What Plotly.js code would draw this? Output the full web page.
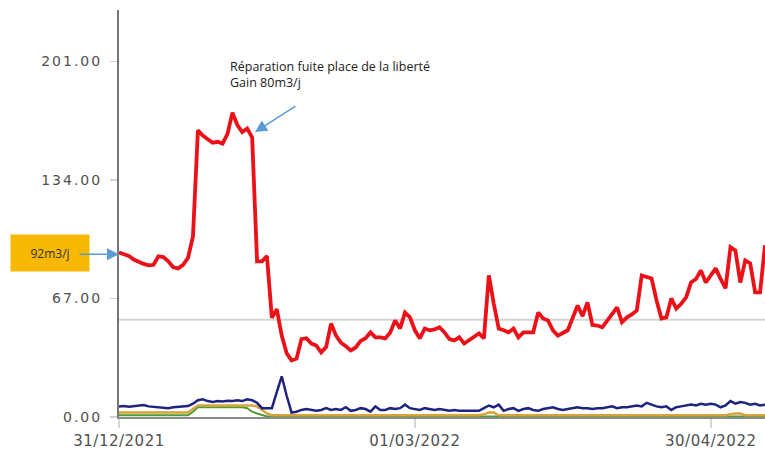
<!DOCTYPE html>
<html>
<head>
<meta charset="utf-8">
<script src="https://cdn.plot.ly/plotly-3.0.1.min.js"></script>
<style>
html,body{margin:0;padding:0;background:#fff;}
#chart{width:765px;height:450px;}
#chart .ytick text{letter-spacing:2px;}
#chart .xtick text{letter-spacing:0.5px;}
</style>
</head>
<body>
<div id="chart"></div>
<script>
// Daily values starting 31/12/2021
const startDate = '2021-12-31';
const redValues = [
  93, 92, 91, 89, 87.5, 86.5, 85.7, 86, 90.8, 90.4,
  88, 84.6, 84, 86, 90, 102, 162, 159, 157, 155,
  155.5, 154.5, 160, 172, 165, 161, 163, 158, 88, 88,
  91, 56, 61, 46, 36, 32, 33, 44, 44.5, 41.5,
  40.4, 36.5, 39.5, 52.8, 46, 42, 40, 37.6, 39.3, 43,
  44.5, 47.8, 45, 45, 44.4, 47.8, 54.6, 50, 59, 56.3,
  49, 44.4, 50, 49, 49.5, 50.7, 47.8, 44, 43.3, 45,
  41.5, 43.3, 45, 47.2, 44.4, 80, 64, 50, 49, 47.8,
  50, 45, 47.8, 48, 47.8, 59, 55.7, 54.6, 49, 46,
  47.8, 49, 56, 63, 57, 64.8, 52, 51.7, 50.7, 54.6,
  58, 62, 53.5, 56.3, 58, 60.2, 80, 79, 78.3, 66,
  55.7, 56.3, 67, 61.3, 64, 67.6, 76, 78, 82.8, 76,
  80, 84, 78, 72.7, 96, 94, 76, 88.5, 86.8, 70.4,
  70.4, 97
];
const blueValues = [
  6, 6.2, 5.8, 6, 6.5, 6.8, 6, 5.8, 5.5, 5,
  5, 5.5, 5.8, 6, 6.2, 7.5, 9.5, 10, 9, 8.5,
  9, 8.8, 9.2, 9, 9.5, 9, 10, 9.5, 8, 5,
  5, 5, 14, 23, 12, 2.5, 3, 4, 4.5, 4,
  3.5, 4, 5, 4, 4.5, 4, 5.5, 3.5, 4, 5,
  4.5, 3, 6, 4, 4, 5, 4.5, 5, 7, 5,
  4.5, 4, 5, 4.5, 4, 4.5, 4, 3.5, 4, 3.5,
  3.5, 3.5, 3.5, 3.5, 5, 6.5, 5.5, 7, 3.5, 4.5,
  5, 3.5, 4.5, 5, 4, 3.5, 4.5, 5, 5.5, 4.5,
  4, 4.5, 5, 5.5, 5, 5, 4.5, 5, 5, 5.5,
  6, 5, 5.5, 5.5, 6, 6.5, 6, 8, 7, 6,
  5.5, 6, 4, 5.5, 6, 6.5, 7, 6.5, 7.5, 7,
  7.5, 7, 5.5, 6.5, 9, 7.5, 8.5, 8, 7, 7.5,
  6.5, 7
];
const orangeValues = [
  2.5, 2.5, 2.5, 2.5, 2.5, 2.5, 2.5, 2.5, 2.5, 2.5,
  2.5, 2.5, 2.5, 2.5, 2.5, 4.5, 6.5, 6.5, 6.5, 6.5,
  6.5, 6.5, 6.5, 6.5, 6.5, 6.5, 6.5, 6.5, 6, 4,
  2, 1, 1, 1, 1, 1, 1, 1, 1, 1,
  1, 1, 1, 1, 1, 1, 1, 1, 1, 1,
  1, 1, 1, 1, 1, 1, 1, 1, 1, 1,
  1, 1, 1, 1, 1, 1, 1, 1, 1, 1,
  1, 1, 1, 1, 1.5, 2.5, 2.5, 1, 1, 1,
  1, 1, 1, 1, 1, 1, 1, 1, 1, 1,
  1, 1, 1, 1, 1, 1, 1, 1, 1, 1,
  1, 1, 1, 1, 1, 1, 1, 1, 1, 1,
  1, 1, 1, 1, 1, 1, 1, 1, 1, 1,
  1, 1, 1, 1, 1.5, 2, 2, 1, 1, 1,
  1, 1
];
const greenValues = [
  1, 1, 1, 1, 1, 1, 1, 1, 1, 1,
  1, 1, 1, 1, 1, 3, 5.5, 5.5, 5.5, 5.5,
  5.5, 5.5, 5.5, 5.5, 5.5, 5.5, 5, 3, 2, 1,
  0.3, 0.3, 0.3, 0.3, 0.3, 0.3, 0.3, 0.3, 0.3, 0.3,
  0.3, 0.3, 0.3, 0.3, 0.3, 0.3, 0.3, 0.3, 0.3, 0.3,
  0.3, 0.3, 0.3, 0.3, 0.3, 0.3, 0.3, 0.3, 0.3, 0.3,
  0.3, 0.3, 0.3, 0.3, 0.3, 0.3, 0.3, 0.3, 0.3, 0.3,
  0.3, 0.3, 0.3, 0.3, 0.3, 0.3, 0.3, 0.3, 0.3, 0.3,
  0.3, 0.3, 0.3, 0.3, 0.3, 0.3, 0.3, 0.3, 0.3, 0.3,
  0.3, 0.3, 0.3, 0.3, 0.3, 0.3, 0.3, 0.3, 0.3, 0.3,
  0.3, 0.3, 0.3, 0.3, 0.3, 0.3, 0.3, 0.3, 0.3, 0.3,
  0.3, 0.3, 0.3, 0.3, 0.3, 0.3, 0.3, 0.3, 0.3, 0.3,
  0.3, 0.3, 0.3, 0.3, 0.3, 0.3, 0.3, 0.3, 0.3, 0.3,
  0.3, 0.3
];
const yTickVals = [0, 67, 134, 201];
const yTickText = ['0.00', '67.00', '134.00', '201.00'];
const xTickVals = ['2021-12-31', '2022-03-01', '2022-04-30'];
const xTickText = ['31/12/2021', '01/03/2022', '30/04/2022'];
const referenceLevel = 55;
const startLabel = '92m3/j';
const startLevel = 92;
const noteText = 'Réparation fuite place de la liberté<br>Gain 80m3/j';
const noteDate = '2022-01-27 14:00';
const noteLevel = 161;

// build date axis from start date
const dates = [];
const d0 = new Date(startDate + 'T00:00:00Z');
for (let i = 0; i < redValues.length; i++) {
  const d = new Date(d0.getTime() + i * 86400000);
  dates.push(d.toISOString().slice(0, 10));
}

const traces = [
  {x: dates, y: greenValues, type: 'scatter', mode: 'lines', line: {color: '#4c9c3a', width: 2}, hoverinfo: 'skip'},
  {x: dates, y: orangeValues, type: 'scatter', mode: 'lines', line: {color: '#d9a23a', width: 2.5}, hoverinfo: 'skip'},
  {x: dates, y: blueValues, type: 'scatter', mode: 'lines', line: {color: '#1f2380', width: 2.5}, hoverinfo: 'skip'},
  {x: dates, y: redValues, type: 'scatter', mode: 'lines', line: {color: '#ea1218', width: 3.8}, hoverinfo: 'skip'}
];

const layout = {
  width: 765, height: 450,
  margin: {l: 119, r: 0, t: 10, b: 33},
  paper_bgcolor: '#ffffff', plot_bgcolor: '#ffffff',
  showlegend: false,
  font: {family: 'DejaVu Sans, sans-serif', color: '#505050'},
  xaxis: {
    type: 'date', range: ['2021-12-31', '2022-05-11'],
    tickvals: xTickVals, ticktext: xTickText,
    tickfont: {size: 15, color: '#505050', family: 'DejaVu Sans, sans-serif'},
    ticks: 'outside', ticklen: 9, tickcolor: '#cfd8e0', tickwidth: 1.5,
    showgrid: false, zeroline: false,
    showline: true, linecolor: '#8a8a8a', linewidth: 2
  },
  yaxis: {
    range: [0, 230],
    tickvals: yTickVals, ticktext: yTickText,
    tickfont: {size: 14, color: '#505050', family: 'DejaVu Sans, sans-serif'},
    ticks: 'outside', ticklen: 7, tickcolor: '#d0d0d0', tickwidth: 1.5,
    ticklabelstandoff: 5,
    showgrid: false, zeroline: false,
    showline: true, linecolor: '#777', linewidth: 2
  },
  shapes: [
    {type: 'line', xref: 'paper', x0: 0, x1: 1, yref: 'y', y0: referenceLevel, y1: referenceLevel,
     line: {color: '#d4d4d4', width: 2}, layer: 'below'}
  ],
  annotations: [
    {xref: 'paper', yref: 'paper', x: -0.107, y: 0.403, text: startLabel, showarrow: false,
     bgcolor: '#f6b800', width: 76, height: 34, font: {size: 12, color: '#333', family: 'Open Sans, sans-serif'},
     xanchor: 'center', yanchor: 'middle'},
    {xref: 'x', yref: 'y', x: startDate, y: startLevel, text: '', showarrow: true,
     axref: 'pixel', ayref: 'pixel', ax: -41, ay: 0,
     arrowhead: 2, arrowsize: 1.6, arrowwidth: 1.5, arrowcolor: '#5b9bd5', standoff: 0},
    {xref: 'paper', yref: 'paper', x: 0.1687, y: 0.887, text: noteText, showarrow: false,
     align: 'left', xanchor: 'left', yanchor: 'top',
     font: {size: 12.5, color: '#222', family: 'Open Sans, sans-serif'}},
    {xref: 'x', yref: 'y', x: noteDate, y: noteLevel, text: '', showarrow: true,
     axref: 'pixel', ayref: 'pixel', ax: 42, ay: -27,
     arrowhead: 2, arrowsize: 1.6, arrowwidth: 1.5, arrowcolor: '#5b9bd5', standoff: 0}
  ]
};

Plotly.newPlot('chart', traces, layout, {displayModeBar: false, staticPlot: true});
</script>
</body>
</html>
